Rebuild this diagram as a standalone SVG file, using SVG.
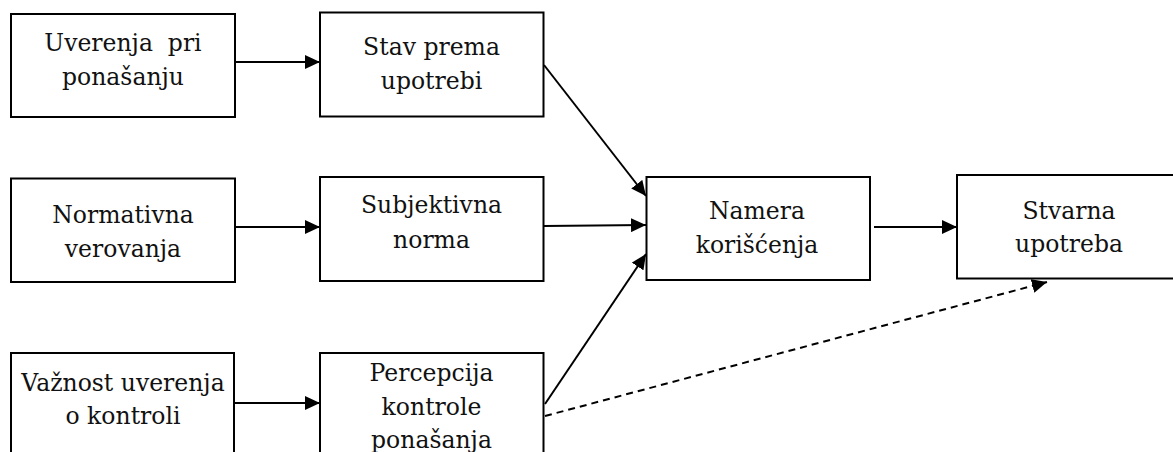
<svg xmlns="http://www.w3.org/2000/svg" width="1173" height="452" viewBox="0 0 1173 452">
<style>
.box{fill:#fff;stroke:#000;stroke-width:2}
.t{font-family:"DejaVu Serif","Liberation Serif",serif;font-size:23.5px;fill:#111;text-anchor:middle;white-space:pre}
.c{stroke:#000;stroke-width:2;fill:none;marker-end:url(#ah)}
.d{stroke-dasharray:7 5}
</style>
<defs>
<marker id="ah" markerUnits="userSpaceOnUse" markerWidth="16" markerHeight="14" refX="15" refY="7" orient="auto">
<path d="M0,0 L15,7 L0,14 Z" fill="#000"/>
</marker>
</defs>
<rect width="1173" height="452" fill="#fff"/>
<g id="connectors">
<line class="c" x1="236" y1="62" x2="320" y2="62"/>
<line class="c" x1="236" y1="227" x2="320" y2="227"/>
<line class="c" x1="235" y1="403" x2="320" y2="403"/>
<line class="c" x1="544" y1="65" x2="646" y2="196"/>
<line class="c" x1="544" y1="226" x2="646" y2="225"/>
<line class="c" x1="545" y1="404" x2="646" y2="254"/>
<line class="c" x1="874" y1="227" x2="957" y2="227"/>
<line class="c d" x1="545" y1="416" x2="1047" y2="282"/>
</g>
<g id="uverenja">
<rect class="box" x="11" y="14" width="224" height="103"/>
<text class="t" x="123" y="51" xml:space="preserve">Uverenja  pri</text>
<text class="t" x="123" y="85">ponašanju</text>
</g>
<g id="stav">
<rect class="box" x="320" y="12.5" width="223.5" height="104"/>
<text class="t" x="431.5" y="55">Stav prema</text>
<text class="t" x="431.5" y="89">upotrebi</text>
</g>
<g id="normativna">
<rect class="box" x="11" y="178.5" width="224" height="103.5"/>
<text class="t" x="123" y="223">Normativna</text>
<text class="t" x="123" y="257">verovanja</text>
</g>
<g id="subjektivna">
<rect class="box" x="320" y="177" width="223.5" height="104"/>
<text class="t" x="431.5" y="213">Subjektivna</text>
<text class="t" x="431.5" y="248">norma</text>
</g>
<g id="vaznost">
<rect class="box" x="11" y="353" width="223" height="120"/>
<text class="t" x="123" y="391">Važnost uverenja</text>
<text class="t" x="123" y="423.5">o kontroli</text>
</g>
<g id="percepcija">
<rect class="box" x="320" y="353" width="223.5" height="120"/>
<text class="t" x="431.5" y="381">Percepcija</text>
<text class="t" x="431.5" y="415">kontrole</text>
<text class="t" x="431.5" y="448">ponašanja</text>
</g>
<g id="namera">
<rect class="box" x="646.5" y="177" width="223.5" height="103"/>
<text class="t" x="757" y="218.5">Namera</text>
<text class="t" x="757" y="253">korišćenja</text>
</g>
<g id="stvarna">
<rect class="box" x="957" y="175" width="224" height="103.5"/>
<text class="t" x="1069" y="219">Stvarna</text>
<text class="t" x="1069" y="252">upotreba</text>
</g>
</svg>
